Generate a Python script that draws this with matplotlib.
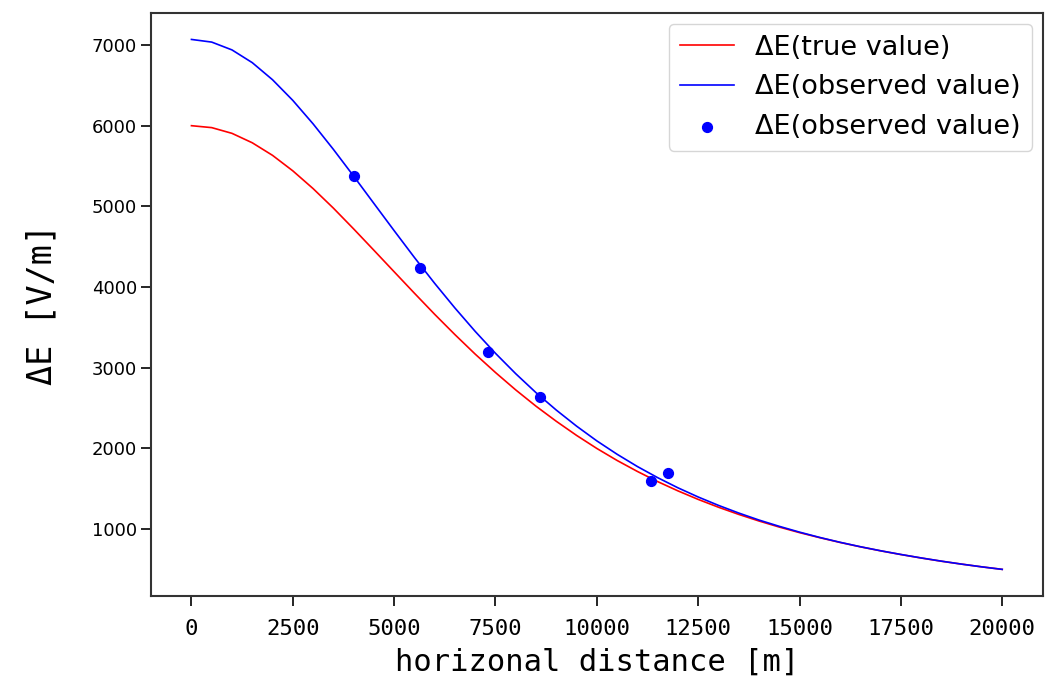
import matplotlib
matplotlib.use("Agg")
import matplotlib.pyplot as plt

# horizontal distance samples [m]
distance = list(range(0, 20001, 500))

# ΔE true value [V/m]
delta_e_true = [
    6000, 5976, 5905, 5788, 5632, 5440, 5220, 4978, 4720, 4455,
    4188, 3922, 3660, 3408, 3166, 2938, 2722, 2520, 2333, 2158,
    1996, 1847, 1711, 1585, 1470, 1364, 1267, 1178, 1096, 1021,
    952, 889, 830, 776, 726, 680, 637, 597, 561, 527, 496,
]

# ΔE observed value (fitted curve) [V/m]
delta_e_obs = [
    7070, 7037, 6940, 6782, 6570, 6314, 6023, 5707, 5375, 5036,
    4698, 4365, 4044, 3738, 3448, 3176, 2923, 2688, 2472, 2273,
    2090, 1924, 1772, 1634, 1508, 1394, 1290, 1195, 1108, 1030,
    958, 892, 832, 777, 727, 681, 638, 598, 561, 527, 496,
]

# observation points
obs_x = [3998, 5640, 7315, 8600, 11330, 11750]
obs_y = [5370, 4235, 3190, 2640, 1590, 1695]

xticks = [0, 2500, 5000, 7500, 10000, 12500, 15000, 17500, 20000]
yticks = [1000, 2000, 3000, 4000, 5000, 6000, 7000]

fig = plt.figure(figsize=(10.48, 6.81), dpi=100)
ax = fig.add_axes([0.144, 0.125, 0.851, 0.856])

ax.plot(distance, delta_e_true, color="red", lw=1.2,
        solid_joinstyle="round", label="ΔE(true value)")
ax.plot(distance, delta_e_obs, color="blue", lw=1.2,
        solid_joinstyle="round", label="ΔE(observed value)")
ax.scatter(obs_x, obs_y, color="blue", s=50, zorder=3, label="ΔE(observed value)")

ax.set_xticks(xticks)
ax.set_yticks(yticks)
ax.tick_params(axis="both", length=7, width=1.2)
ax.tick_params(axis="y", labelsize=13, pad=3)
ax.tick_params(axis="x", pad=10)
for lbl in ax.get_xticklabels():
    lbl.set_fontfamily("DejaVu Sans Mono")
    lbl.set_fontsize(16)

for sp in ax.spines.values():
    sp.set_linewidth(1.5)
    sp.set_color("#333333")

ax.set_xlabel("horizonal distance [m]", fontfamily="DejaVu Sans Mono",
              fontsize=22, labelpad=6)
ax.set_ylabel("ΔE [V/m]", fontfamily="DejaVu Sans Mono", fontsize=24,
              labelpad=24)

ax.legend(loc="upper right", fontsize=19.5, borderaxespad=0.4)

fig.savefig("out.png", dpi=100)
